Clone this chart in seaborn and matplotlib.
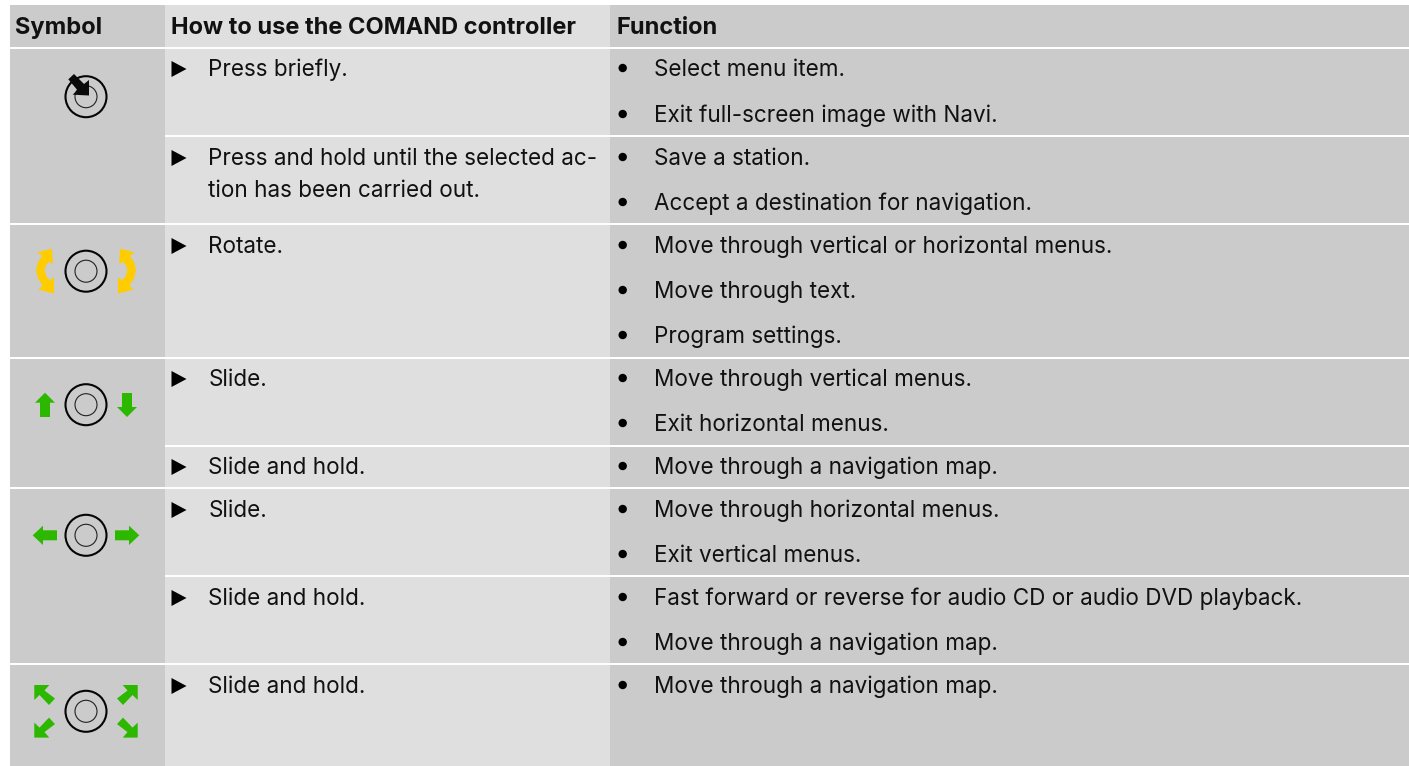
import matplotlib
matplotlib.use("Agg")
import matplotlib.pyplot as plt
from matplotlib.patches import Rectangle, Polygon, Circle
import seaborn as sns

sns.set_theme(style="white")
plt.rcParams['font.family'] = ['Inter', 'DejaVu Sans']

# ---------- content ----------
headers = ["Symbol", "How to use the COMAND controller", "Function"]
actions = [
    (76, ["Press briefly."]),
    (165, ["Press and hold until the selected ac-", "tion has been carried out."]),
    (253, ["Rotate."]),
    (386, ["Slide."]),
    (474, ["Slide and hold."]),
    (517, ["Slide."]),
    (605, ["Slide and hold."]),
    (693, ["Slide and hold."]),
]
functions = [
    (76, "Select menu item."),
    (122, "Exit full-screen image with Navi."),
    (165, "Save a station."),
    (210, "Accept a destination for navigation."),
    (253, "Move through vertical or horizontal menus."),
    (298, "Move through text."),
    (343, "Program settings."),
    (386, "Move through vertical menus."),
    (431, "Exit horizontal menus."),
    (474, "Move through a navigation map."),
    (517, "Move through horizontal menus."),
    (562, "Exit vertical menus."),
    (605, "Fast forward or reverse for audio CD or audio DVD playback."),
    (650, "Move through a navigation map."),
    (693, "Move through a navigation map."),
]
symbol_bands = [(49, 223), (225, 357), (359, 487), (489, 663), (665, 766)]
detail_bands = [(49, 135), (137, 223), (225, 357), (359, 445), (447, 487),
                (489, 575), (577, 663), (665, 766)]
knob_centres = [96.7, 271.2, 404.7, 535.3, 711.3]

DARK, LIGHT, INK = "#cbcbcb", "#dfdfdf", "#111111"
AMBER, GREEN = "#ffcc00", "#2db800"
X0, X1, X2, X3 = 10, 165, 610, 1409
FS, HFS = 16.2, 17.0

fig = plt.figure(figsize=(14.09, 7.66), dpi=100, facecolor="white")
ax = fig.add_axes([0, 0, 1, 1])
ax.set_xlim(0, 1409)
ax.set_ylim(766, 0)
ax.axis("off")
sns.despine(ax=ax, left=True, bottom=True)


def cell(x0, x1, y0, y1, c):
    ax.add_patch(Rectangle((x0, y0), x1 - x0, y1 - y0, fc=c, ec="none", zorder=1))


# header
cell(X0, X1, 5, 47, DARK)
cell(X1, X2, 5, 47, LIGHT)
cell(X2, X3, 5, 47, DARK)
for x, h in zip((15.5, 171, 617), headers):
    ax.text(x, 34, h, fontsize=HFS, fontweight="bold", color=INK, va="baseline", zorder=3)

# body
for y0, y1 in symbol_bands:
    cell(X0, X1, y0, y1, DARK)
for y0, y1 in detail_bands:
    cell(X1, X2, y0, y1, LIGHT)
    cell(X2, X3, y0, y1, DARK)

for b, lines in actions:
    ax.add_patch(Polygon([(171.5, b - 15), (171.5, b + 1), (186.5, b - 7)], fc="black", ec="none", zorder=3))
    for i, t in enumerate(lines):
        ax.text(208.5, b + i * 32, t, fontsize=FS, color=INK, va="baseline", zorder=3)

for b, t in functions:
    ax.add_patch(Circle((622.7, b - 8), 4.2, fc="black", ec="none", zorder=3))
    ax.text(654, b, t, fontsize=FS, color=INK, va="baseline", zorder=3)

# knobs
for cy in knob_centres:
    ax.add_patch(Circle((86, cy), 20.5, fc="none", ec="#050505", lw=1.5, zorder=3))
    ax.add_patch(Circle((86, cy), 11, fc="none", ec="#222222", lw=0.8, zorder=3))


def poly(pts, c, mirror_x=False, mirror_y=None):
    out = []
    for x, y in pts:
        if mirror_x:
            x = 172 - x
        if mirror_y is not None:
            y = 2 * mirror_y - y
        out.append((x, y))
    ax.add_patch(Polygon(out, fc=c, ec="none", zorder=4))


# press arrow
poly([(74, 74), (68.3, 79.3), (77.3, 90), (72.7, 94.7), (89, 95.5), (89, 80), (84, 84)], "#0a0a0a")

# rotate arrows
yellow = [(30 + z[0] / 3, 245 + z[1] / 3) for z in
          [(22, 22), (66, 11), (68, 58), (58, 50), (47, 62), (44, 78), (50, 95), (60, 106),
           (72, 97), (72, 146), (25, 133), (38, 122), (24, 100), (18, 75), (24, 50), (37, 33)]]
poly(yellow, AMBER)
poly(yellow, AMBER, mirror_x=True)

# up / down
poly([(45, 392.7), (55, 402.7), (50, 402.7), (50, 417), (40, 417), (40, 402.7), (35, 402.7)], GREEN)
poly([(122, 393), (132, 393), (132, 407), (137, 407), (127, 417), (117, 407), (122, 407)], GREEN)

# left / right
poly([(32.7, 535.3), (43, 525.7), (43, 530.3), (57, 530.3), (57, 540.3), (43, 540.3), (43, 545)], GREEN)
poly([(32.7, 535.3), (43, 525.7), (43, 530.3), (57, 530.3), (57, 540.3), (43, 540.3), (43, 545)], GREEN, mirror_x=True)

# diagonals
diag = [(34.3, 685), (49.3, 685), (44.5, 690.5), (55, 698.5), (49, 705), (39.5, 695), (34.3, 700)]
poly(diag, GREEN)
poly(diag, GREEN, mirror_x=True)
poly(diag, GREEN, mirror_y=711.3)
poly(diag, GREEN, mirror_x=True, mirror_y=711.3)

fig.savefig("out.png", dpi=100, facecolor="white")
